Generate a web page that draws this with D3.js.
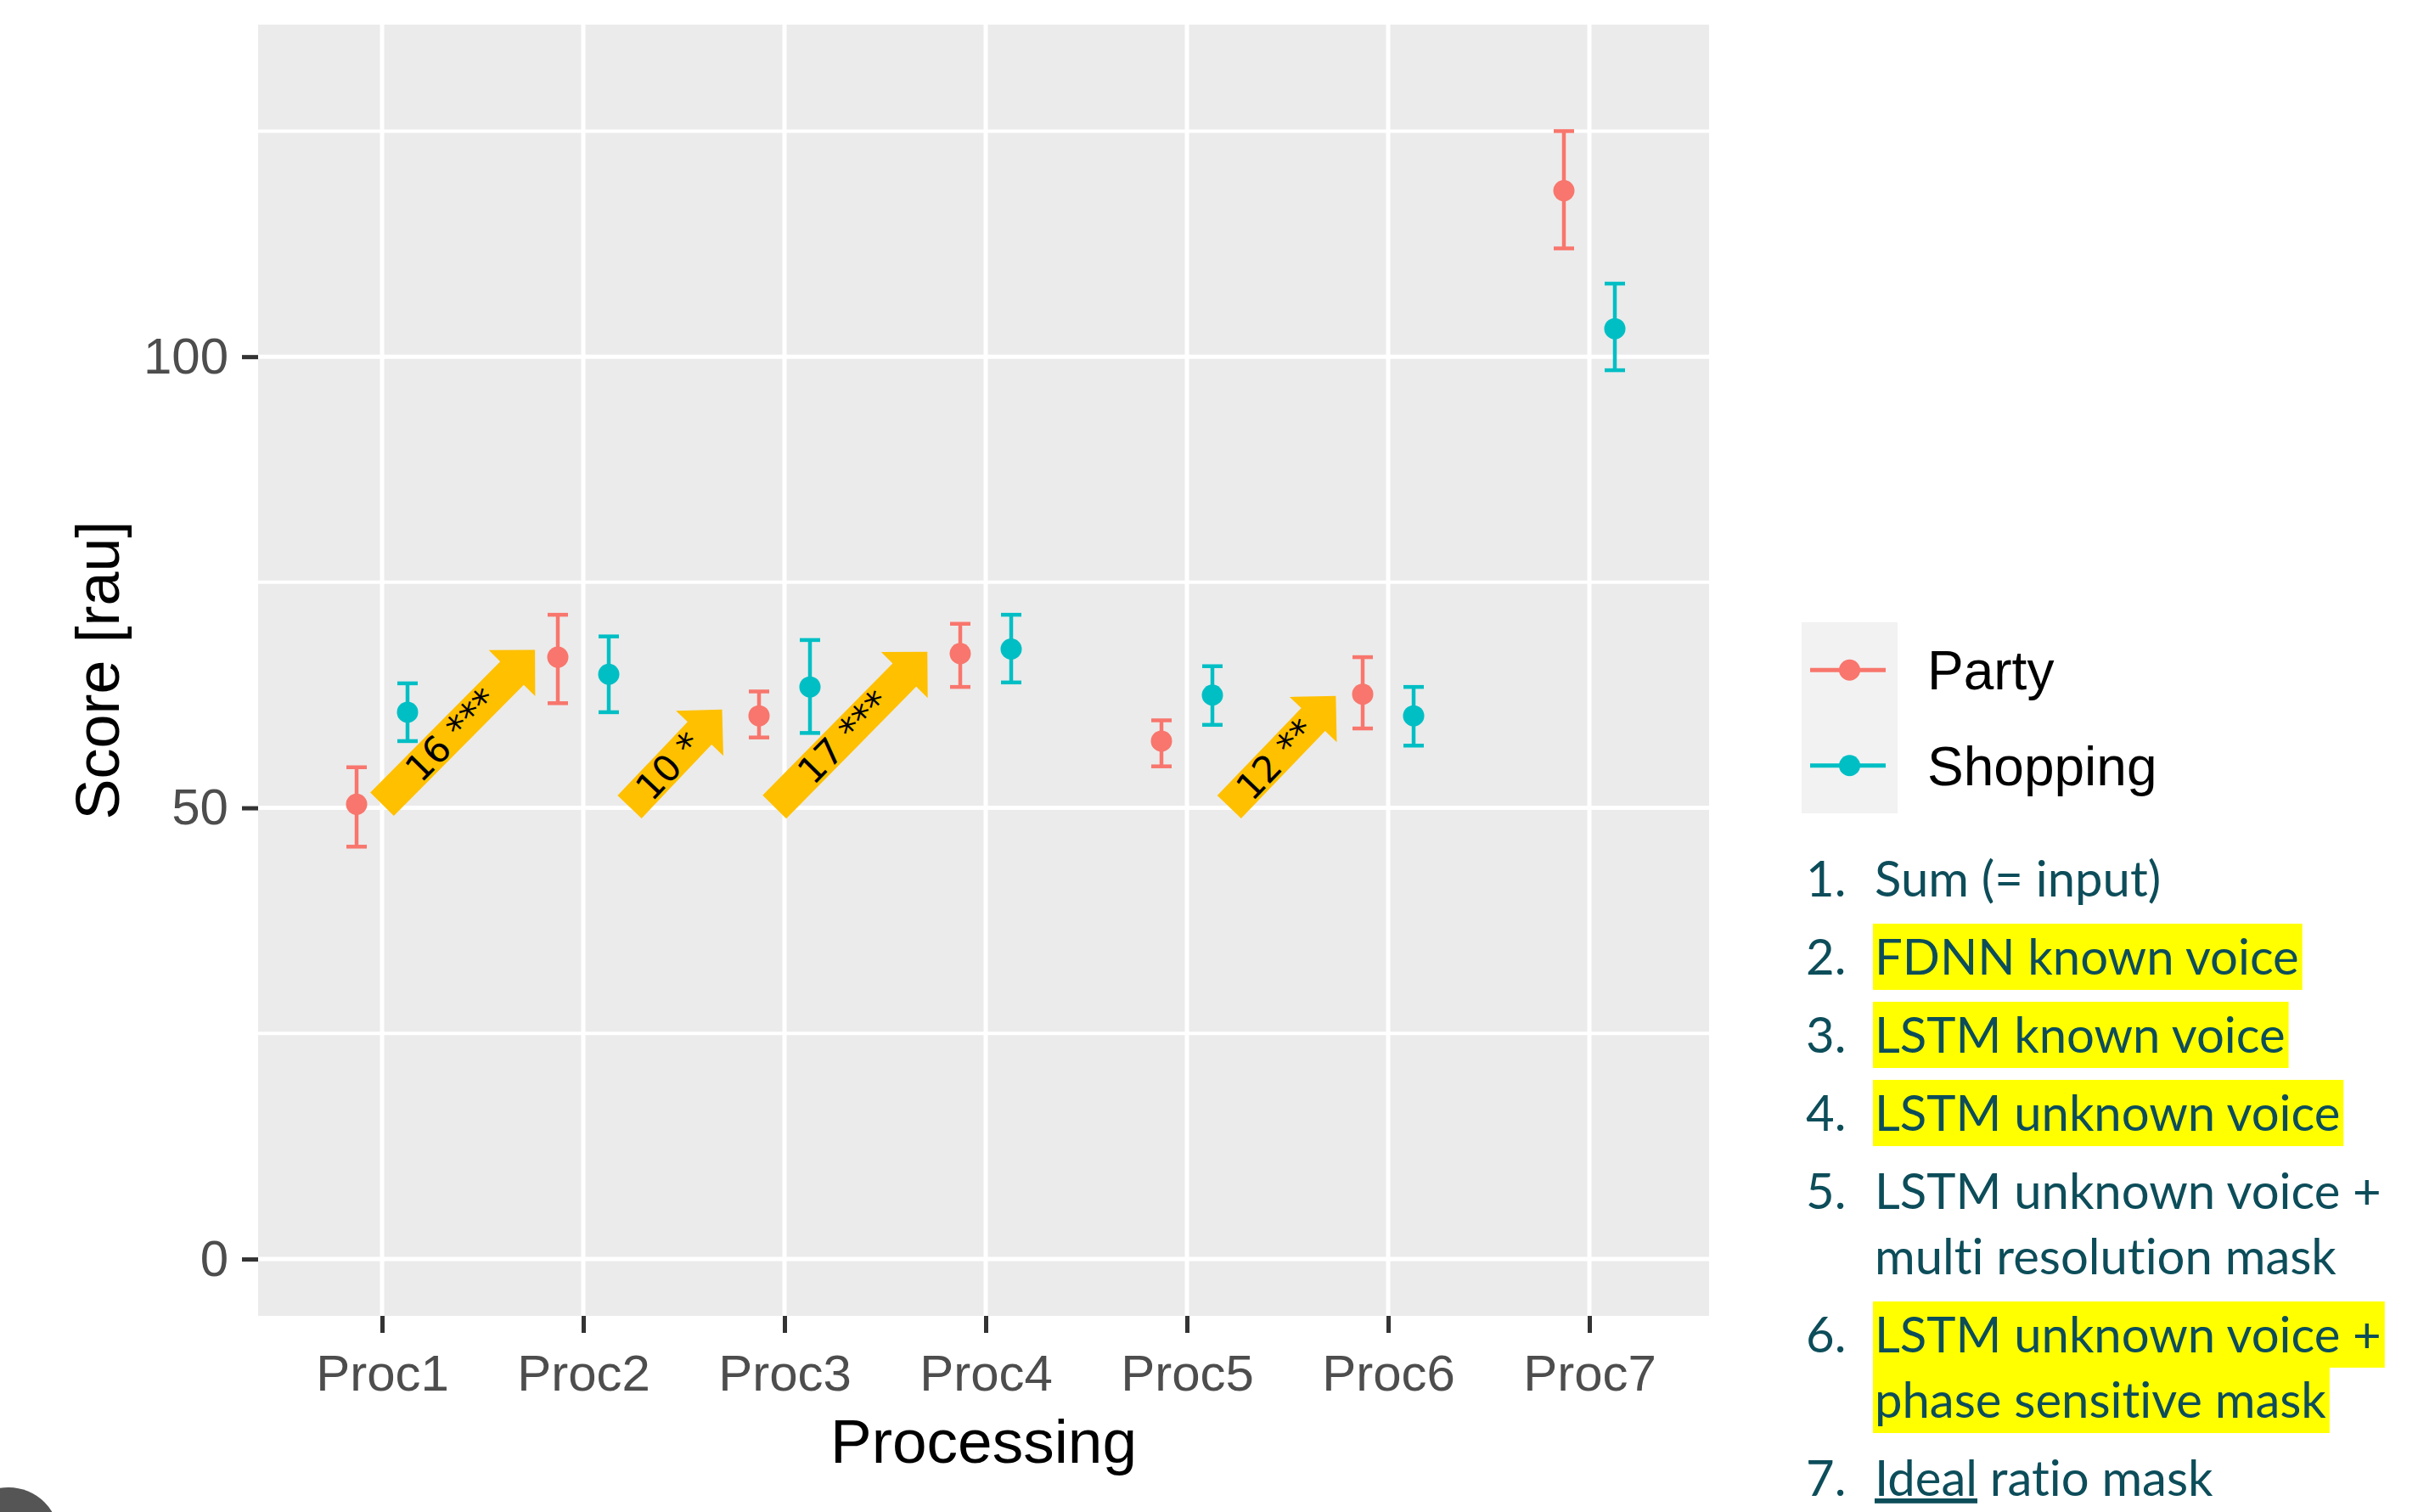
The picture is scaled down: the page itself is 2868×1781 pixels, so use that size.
<!DOCTYPE html>
<html>
<head>
<meta charset="utf-8">
<script src="https://cdn.jsdelivr.net/npm/d3@7"></script>
<style>
	html, body { margin: 0; padding: 0; background: #fff; }
	svg { display: block; }
	.notes text { font-variant-ligatures: none; }
</style>
</head>
<body>
<svg id="chart"></svg>
<script>
(function (d3) {
	"use strict";

	/***** Data *****/

	// Processing conditions on the x axis
	var categories = ["Proc1", "Proc2", "Proc3", "Proc4", "Proc5", "Proc6", "Proc7"];
	var seriesNames = ["Party", "Shopping"];

	// Score [rau], mean and error bar ends
	var partyMean = [50.4, 66.7, 60.2, 67.1, 57.4, 62.6, 118.4];
	var partyLow  = [45.7, 61.6, 57.8, 63.4, 54.6, 58.8, 112.0];
	var partyHigh = [54.5, 71.4, 62.9, 70.4, 59.7, 66.7, 125.0];

	var shoppingMean = [60.6, 64.8, 63.4, 67.6, 62.5, 60.2, 103.1];
	var shoppingLow  = [57.4, 60.6, 58.3, 63.9, 59.2, 56.9, 98.5];
	var shoppingHigh = [63.8, 69.0, 68.6, 71.4, 65.7, 63.4, 108.1];

	// Axis ticks
	var yMajorTicks = [0, 50, 100];
	var yMinorTicks = [25, 75, 125];

	// Yellow arrows: [category position, score] for tail and tip
	var arrowLabels = ["16 ***", "10 *", "17 ***", "12 **"];
	var arrowFrom = [[0.00, 50.4], [1.23, 50.1], [1.95, 50.1], [4.21, 50.1]];
	var arrowTo   = [[0.76, 67.5], [1.69, 60.9], [2.71, 67.3], [4.74, 62.4]];

	// Numbered notes to the right
	var noteNumbers = ["1.", "2.", "3.", "4.", "5.", "6.", "7."];
	var noteLines = [
		["Sum (= input)"],
		["FDNN known voice"],
		["LSTM known voice"],
		["LSTM unknown voice"],
		["LSTM unknown voice +", "multi resolution mask"],
		["LSTM unknown voice +", "phase sensitive mask"],
		["Ideal ratio mask"]
	];
	var noteHighlighted = [false, true, true, true, false, true, false];


	/***** Layout *****/
	const width = 2868;
	const height = 1781;
	const panel = {left: 304, right: 2013, top: 29, bottom: 1550};
	const colors = ["#F8766D", "#00BFC4"];
	const dodge = 30;
	const capWidth = 24;
	const pointRadius = 12.5;

	// Arrow shape
	const shaftHalf = 19.5;
	const headHalf = 38.5;
	const headLength = 38.5;

	var svg = d3.select("#chart")
		.attr("width", width)
		.attr("height", height)
		.style("background", "#fff");


	/***** Scales *****/
	var x = d3.scalePoint().domain(categories).range([450, 1872]);
	var xPos = d3.scaleLinear().domain([0, categories.length - 1]).range([x(categories[0]), x(categories[categories.length - 1])]);
	var y = d3.scaleLinear().domain([-6.3, 136.8]).range([panel.bottom, panel.top]);


	/***** Panel and grid *****/
	svg.append("rect")
		.attr("x", panel.left)
		.attr("y", panel.top)
		.attr("width", panel.right - panel.left)
		.attr("height", panel.bottom - panel.top)
		.attr("fill", "#EBEBEB");

	var grid = svg.append("g").attr("class", "grid");

	grid.selectAll(".minor")
		.data(yMinorTicks)
		.enter().append("line")
		.attr("x1", panel.left).attr("x2", panel.right)
		.attr("y1", function (d) { return y(d); })
		.attr("y2", function (d) { return y(d); })
		.attr("stroke", "#fff")
		.attr("stroke-width", 4);

	grid.selectAll(".major")
		.data(yMajorTicks)
		.enter().append("line")
		.attr("x1", panel.left).attr("x2", panel.right)
		.attr("y1", function (d) { return y(d); })
		.attr("y2", function (d) { return y(d); })
		.attr("stroke", "#fff")
		.attr("stroke-width", 5);

	grid.selectAll(".xgrid")
		.data(categories)
		.enter().append("line")
		.attr("x1", function (d) { return x(d); })
		.attr("x2", function (d) { return x(d); })
		.attr("y1", panel.top).attr("y2", panel.bottom)
		.attr("stroke", "#fff")
		.attr("stroke-width", 5);


	/***** Axes *****/
	var xAxis = svg.append("g")
		.attr("class", "axis")
		.attr("transform", "translate(0," + panel.bottom + ")")
		.call(d3.axisBottom(x).tickSize(20).tickPadding(25));

	var yAxis = svg.append("g")
		.attr("class", "axis")
		.attr("transform", "translate(" + panel.left + ",0)")
		.call(d3.axisLeft(y).tickValues(yMajorTicks).tickSize(19).tickPadding(16));

	[xAxis, yAxis].forEach(function (axis) {
		axis.select(".domain").remove();
		axis.selectAll(".tick line").attr("stroke", "#333").attr("stroke-width", 5);
		axis.selectAll(".tick text")
			.attr("fill", "#4D4D4D")
			.style("font-family", "'Liberation Sans', Arial, sans-serif")
			.style("font-size", "60px");
	});

	svg.append("text")
		.attr("x", (panel.left + panel.right) / 2)
		.attr("y", 1723)
		.attr("text-anchor", "middle")
		.style("font-family", "'Liberation Sans', Arial, sans-serif")
		.style("font-size", "73px")
		.text("Processing");

	svg.append("text")
		.attr("transform", "translate(140," + (panel.top + panel.bottom) / 2 + ") rotate(-90)")
		.attr("text-anchor", "middle")
		.style("font-family", "'Liberation Sans', Arial, sans-serif")
		.style("font-size", "72px")
		.text("Score [rau]");


	/***** Error bars and points *****/
	var rows = [];
	categories.forEach(function (cat, i) {
		rows.push({cat: cat, s: 0, mean: partyMean[i], low: partyLow[i], high: partyHigh[i]});
		rows.push({cat: cat, s: 1, mean: shoppingMean[i], low: shoppingLow[i], high: shoppingHigh[i]});
	});

	var bars = svg.append("g").selectAll("g")
		.data(rows)
		.enter().append("g")
		.attr("transform", function (d) {
			return "translate(" + (x(d.cat) + (d.s === 0 ? -dodge : dodge)) + ",0)";
		})
		.attr("stroke", function (d) { return colors[d.s]; })
		.attr("fill", function (d) { return colors[d.s]; });

	bars.append("line")
		.attr("y1", function (d) { return y(d.low); })
		.attr("y2", function (d) { return y(d.high); })
		.attr("stroke-width", 4.5);

	bars.selectAll(".cap")
		.data(function (d) { return [d.low, d.high]; })
		.enter().append("line")
		.attr("x1", -capWidth / 2).attr("x2", capWidth / 2)
		.attr("y1", function (v) { return y(v); })
		.attr("y2", function (v) { return y(v); })
		.attr("stroke-width", 4.5);

	bars.append("circle")
		.attr("cy", function (d) { return y(d.mean); })
		.attr("r", pointRadius)
		.attr("stroke", "none");


	/***** Yellow arrows *****/
	function arrowPath(L) {
		var b = L - headLength;
		return "M0," + (-shaftHalf) +
			"L" + b + "," + (-shaftHalf) +
			"L" + b + "," + (-headHalf) +
			"L" + L + ",0" +
			"L" + b + "," + headHalf +
			"L" + b + "," + shaftHalf +
			"L0," + shaftHalf + "Z";
	}

	arrowLabels.forEach(function (label, i) {
		var x0 = xPos(arrowFrom[i][0]), y0 = y(arrowFrom[i][1]);
		var x1 = xPos(arrowTo[i][0]), y1 = y(arrowTo[i][1]);
		var L = Math.hypot(x1 - x0, y1 - y0);
		var angle = Math.atan2(y1 - y0, x1 - x0) * 180 / Math.PI;

		var g = svg.append("g")
			.attr("transform", "translate(" + x0 + "," + y0 + ") rotate(" + angle + ")");

		g.append("path")
			.attr("d", arrowPath(L))
			.attr("fill", "#FFC000");

		g.append("text")
			.attr("x", (L - headLength) / 2 + 7)
			.attr("y", 0)
			.attr("dy", "0.36em")
			.attr("text-anchor", "middle")
			.style("font-family", "'DejaVu Sans', Verdana, sans-serif")
			.style("font-size", "43px")
			.text(label);
	});


	/***** Legend *****/
	var legend = svg.append("g").attr("class", "legend");
	const keyTop = 733, keyLeft = 2122, keyWidth = 113, keyHeight = 112.5;

	legend.append("rect")
		.attr("x", keyLeft).attr("y", keyTop)
		.attr("width", keyWidth).attr("height", keyHeight * seriesNames.length)
		.attr("fill", "#F2F2F2");

	seriesNames.forEach(function (name, i) {
		var cy = keyTop + keyHeight * (i + 0.5);
		legend.append("line")
			.attr("x1", keyLeft + 10).attr("x2", keyLeft + keyWidth - 14)
			.attr("y1", cy).attr("y2", cy)
			.attr("stroke", colors[i])
			.attr("stroke-width", 5);
		legend.append("circle")
			.attr("cx", keyLeft + keyWidth / 2)
			.attr("cy", cy)
			.attr("r", pointRadius)
			.attr("fill", colors[i]);
		legend.append("text")
			.attr("x", 2270)
			.attr("y", cy + 23)
			.style("font-family", "'Liberation Sans', Arial, sans-serif")
			.style("font-size", "64px")
			.text(name);
	});


	/***** Notes *****/
	var notes = svg.append("g").attr("class", "notes");
	var highlights = notes.append("g");
	const noteFont = "Lato, 'Open Sans', sans-serif";
	const noteColor = "#0D4D5A";
	var baseline = 1056;

	noteLines.forEach(function (lines, i) {
		notes.append("text")
			.attr("x", 2127)
			.attr("y", baseline)
			.attr("fill", noteColor)
			.style("font-family", noteFont)
			.style("font-size", "58px")
			.text(noteNumbers[i]);

		lines.forEach(function (line, j) {
			var t = notes.append("text")
				.attr("x", 2208)
				.attr("y", baseline)
				.attr("fill", noteColor)
				.style("font-family", noteFont)
				.style("font-size", "58px");

			if (i === noteLines.length - 1 && j === 0) {
				// the first word is underlined
				var first = line.split(" ")[0];
				t.append("tspan").style("text-decoration", "underline").text(first);
				t.append("tspan").text(line.substring(first.length));
			} else {
				t.text(line);
			}

			if (noteHighlighted[i]) {
				var w = t.node().getComputedTextLength();
				highlights.append("rect")
					.attr("x", 2206)
					.attr("y", baseline - 60)
					.attr("width", w + 6)
					.attr("height", 78)
					.attr("fill", "#FFFF00");
			}
			if (j < lines.length - 1) baseline += 77;
		});
		baseline += 92;
	});

	// partly visible round badge in the bottom-left corner
	svg.append("circle")
		.attr("cx", 10).attr("cy", 1812).attr("r", 60)
		.attr("fill", "#555");

})(d3);
</script>
</body>
</html>
